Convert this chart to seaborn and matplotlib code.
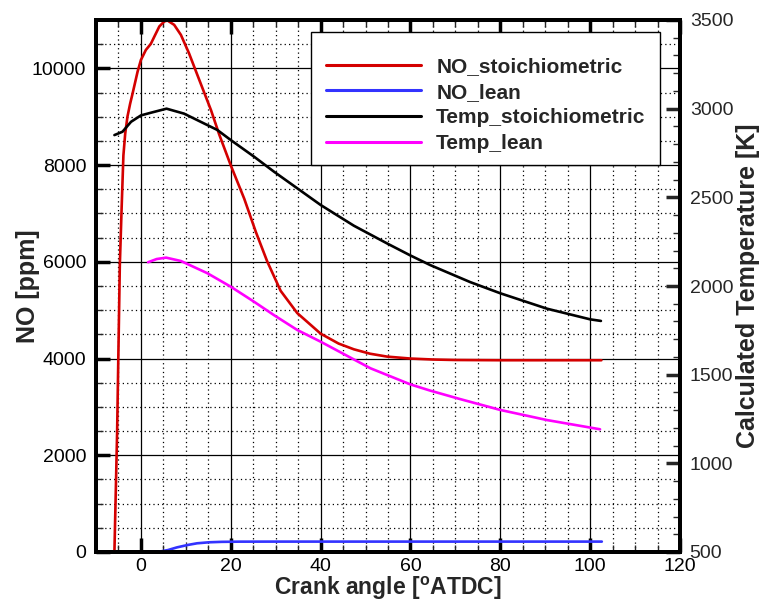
import matplotlib
matplotlib.use("Agg")
import matplotlib.pyplot as plt
import seaborn as sns
import pandas as pd
from matplotlib.ticker import MultipleLocator
from matplotlib.lines import Line2D
from matplotlib.patches import Rectangle

# ---------------- data ----------------
no_stoich_x = [-5.9, -5.3, -4.7, -4.3, -3.9, -3.5, -3.0, -2.4, -1.85, -0.74, 0.0, 1.1, 2.2, 3.0,
               4.1, 5.2, 5.9, 7.4, 8.9, 10.7, 13.0, 15.6, 17.4, 20.0, 23.0, 25.6, 28.1, 31.1,
               34.8, 40.0, 44.0, 47.4, 51.0, 54.8, 60.0, 65.0, 70.0, 80.0, 90.0, 102.5]
no_stoich_y = [0, 2470, 5920, 7100, 8200, 8650, 9000, 9270, 9483, 9933, 10174, 10381, 10506, 10659,
               10867, 10970, 10990, 10900, 10692, 10313, 9759, 9136, 8640, 7995, 7304, 6613, 6011, 5400,
               4940, 4515, 4310, 4191, 4100, 4040, 4000, 3980, 3970, 3965, 3965, 3965]

no_lean_x = [2.0, 3.7, 6.0, 8.0, 10.4, 12.5, 15.2, 18.0, 22.0, 30.0, 50.0, 80.0, 102.6]
no_lean_y = [0, 0, 40, 95, 145, 180, 201, 210, 214, 215, 215, 215, 215]

t_stoich_x = [-5.9, -4.1, -2.2, 0.0, 2.2, 5.7, 9.6, 13.3, 17.0, 20.0, 25.2, 29.6, 34.8, 40.0,
              47.4, 54.8, 60.0, 64.4, 73.3, 80.0, 90.4, 100.0, 102.4]
t_stoich_y = [2851, 2870, 2926, 2962, 2977, 3000, 2972, 2926, 2880, 2823, 2729, 2645, 2551, 2457,
              2340, 2240, 2172, 2118, 2022, 1959, 1872, 1812, 1803]

t_lean_x = [1.6, 3.5, 5.6, 8.9, 14.8, 20.0, 25.2, 29.6, 34.8, 40.0, 51.1, 60.0, 64.4, 71.1,
            80.0, 90.4, 102.2]
t_lean_y = [2134, 2152, 2160, 2141, 2072, 1996, 1911, 1836, 1752, 1686, 1536, 1445, 1410, 1362,
            1301, 1244, 1192]

x_ticks = [0, 20, 40, 60, 80, 100, 120]
no_ticks = [0, 2000, 4000, 6000, 8000, 10000]
t_ticks = [500, 1000, 1500, 2000, 2500, 3000, 3500]
labels = ["NO_stoichiometric", "NO_lean", "Temp_stoichiometric", "Temp_lean"]

# ---------------- style ----------------
sns.set_style("ticks")
plt.rcParams["font.family"] = ["Liberation Sans", "DejaVu Sans"]
plt.rcParams["mathtext.fontset"] = "custom"
plt.rcParams["mathtext.bf"] = "Liberation Sans:bold"
plt.rcParams["mathtext.rm"] = "Liberation Sans"

fig = plt.figure(figsize=(7.64, 6.03), dpi=100)
ax = fig.add_axes([96 / 764, 1 - 552 / 603, (680 - 96) / 764, (552 - 20) / 603])
ax2 = ax.twinx()

c_red = "#d40000"
c_blue = "#3333ff"
c_black = "#000000"
c_mag = "#ff00ff"
lw = 1.9

df_ns = pd.DataFrame({"x": no_stoich_x, "y": no_stoich_y})
df_nl = pd.DataFrame({"x": no_lean_x, "y": no_lean_y})
df_ts = pd.DataFrame({"x": t_stoich_x, "y": t_stoich_y})
df_tl = pd.DataFrame({"x": t_lean_x, "y": t_lean_y})

sns.lineplot(data=df_ns, x="x", y="y", ax=ax, color=c_red, lw=lw, sort=False, zorder=5)
sns.lineplot(data=df_nl, x="x", y="y", ax=ax, color=c_blue, lw=lw, sort=False, zorder=5)
sns.lineplot(data=df_ts, x="x", y="y", ax=ax2, color=c_black, lw=lw, sort=False, zorder=5)
sns.lineplot(data=df_tl, x="x", y="y", ax=ax2, color=c_mag, lw=lw, sort=False, zorder=5)

ax.set_xlim(-10, 120)
ax.set_ylim(0, 11000)
ax2.set_ylim(500, 3500)

ax.set_xticks(x_ticks)
ax.set_yticks(no_ticks)
ax2.set_yticks(t_ticks)
ax.xaxis.set_minor_locator(MultipleLocator(5))
ax.yaxis.set_minor_locator(MultipleLocator(500))
ax2.yaxis.set_minor_locator(MultipleLocator(100))

ax.grid(True, which="major", color="black", lw=0.9, ls="-")
ax.grid(True, which="minor", color="black", lw=0.9, ls=(0, (1, 2.5)))
ax.set_axisbelow(True)

ax.tick_params(which="major", direction="in", length=10, width=2.5, labelsize=14,
               top=True, right=False, pad=7, colors="black")
ax.tick_params(axis="x", which="major", pad=4.5)
ax.tick_params(which="minor", direction="in", length=5, width=1, top=True, right=False)
ax2.tick_params(which="major", direction="in", length=10, width=2.5, labelsize=14, pad=7)
ax2.tick_params(which="minor", direction="in", length=5, width=1)

for a in (ax, ax2):
    for s in a.spines.values():
        s.set_linewidth(2.8)
        s.set_color("black")
        s.set_visible(True)

ax.set_xlabel(r"Crank angle [$^{\mathbf{o}}$ATDC]", fontsize=16.5, fontweight="bold")
ax.xaxis.label.set_va("bottom")
ax.xaxis.set_label_coords(0.5, (552 - 602) / 532)
ax.set_ylabel("NO [ppm]", fontsize=18, fontweight="bold")
ax.yaxis.label.set_va("center")
ax.yaxis.set_label_coords((28 - 96) / 584, 0.5)
ax2.set_ylabel("Calculated Temperature [K]", fontsize=18, fontweight="bold")
ax2.yaxis.label.set_va("center")
ax2.yaxis.set_label_coords((748 - 96) / 584, 0.5)

# legend frame
x0 = (311 - 96) / 584
x1 = (660 - 96) / 584
y0 = (552 - 165) / 532
y1 = (552 - 32) / 532
frame = Rectangle((x0, y0), x1 - x0, y1 - y0, transform=ax2.transAxes,
                  facecolor="white", edgecolor="black", lw=1.0, zorder=8)
ax2.add_patch(frame)

handles = [Line2D([], [], color=c_red, lw=2.2),
           Line2D([], [], color=c_blue, lw=2.2),
           Line2D([], [], color=c_black, lw=2.2),
           Line2D([], [], color=c_mag, lw=2.2)]
leg = ax2.legend(handles, labels, loc="upper left",
                 bbox_to_anchor=((326 - 96) / 584, (552 - 57) / 532),
                 borderaxespad=0, borderpad=0, frameon=False,
                 handlelength=4.57, handletextpad=0.72, labelspacing=0.32,
                 prop={"weight": "bold", "size": 15})
leg.set_zorder(10)

fig.savefig("out.png", dpi=100)
